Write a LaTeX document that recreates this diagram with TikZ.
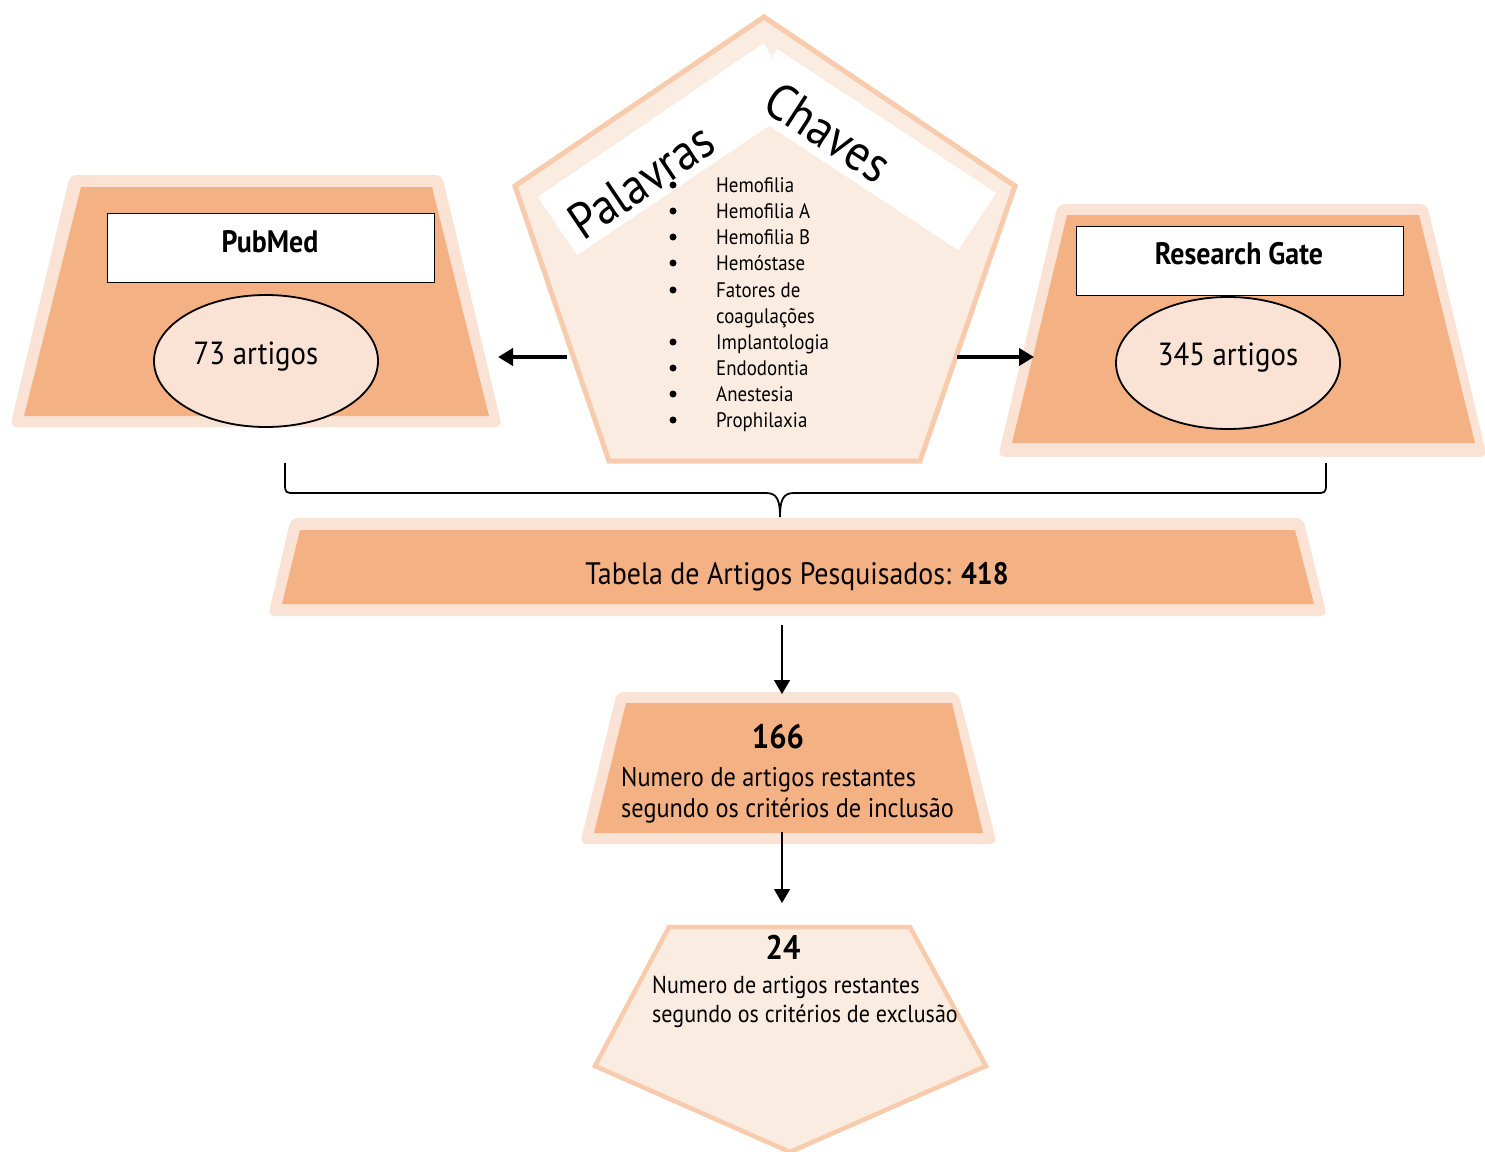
\documentclass[tikz,border=0pt]{standalone}
\usepackage{fontspec}
\setmainfont[FakeStretch=0.9]{PT Sans}
\usetikzlibrary{arrows.meta,shapes.geometric}
\definecolor{orangefill}{HTML}{F4B183}
\definecolor{lightrim}{HTML}{FAE3D5}
\definecolor{pentline}{HTML}{F8CBAD}
\definecolor{pentfill}{HTML}{FBECE1}
\begin{document}
\begin{tikzpicture}[x=1pt,y=-1pt,
  rimshape/.style={fill=lightrim, rounded corners=7pt},
  coreshape/.style={fill=orangefill},
  pentshape/.style={draw=pentline, fill=pentfill, line width=5pt, line join=miter},
  bandshape/.style={fill=white},
  whitebox/.style={draw=black, line width=1pt, fill=white},
  bubble/.style={ellipse, draw=black, line width=1.8pt, fill=lightrim, inner sep=0pt},
  thickarrow/.style={line width=4.5pt, -{Triangle[length=15pt,width=17pt]}},
  thinarrow/.style={line width=1.4pt, -{Triangle[length=14pt,width=16pt]}},
  kwtext/.style={font=\fontsize{21}{25}\selectfont, anchor=base west, inner sep=0pt},
  kwdot/.style={circle, fill=black, inner sep=0pt, minimum size=7pt},
  bigtitle/.style={font=\fontsize{51}{51}\selectfont, inner sep=0pt},
  dbtitle/.style={font=\bfseries\fontsize{31}{34}\selectfont, inner sep=0pt},
  counttext/.style={font=\fontsize{32}{34}\selectfont, anchor=base, inner sep=0pt},
  numtext/.style={font=\bfseries\fontsize{34}{36}\selectfont, anchor=base, inner sep=0pt},
  desctext/.style={align=left, anchor=base west, inner sep=0pt}
]
\useasboundingbox (0,0) rectangle (1485,1151);

% ---------- top pentagon (keywords) ----------
\draw[pentshape] (764,17) -- (1015,186) -- (920,461) -- (609,461) -- (515,186) -- cycle;
\fill[bandshape] (538,197) -- (764,43) -- (772,58) -- (806,101) -- (577,255) -- cycle;
\fill[bandshape] (777,49) -- (996,193) -- (958,250) -- (741,107) -- (772,58) -- cycle;
\node[bigtitle, rotate=34] (palavras) at (641,181) {Palavras};
\node[bigtitle, rotate=-33] (chaves) at (828,132) {Chaves};

\node[kwtext] (k1) at (716,192) {Hemofilia};
\node[kwtext] (k2) at (716,218) {Hemofilia A};
\node[kwtext] (k3) at (716,244) {Hemofilia B};
\node[kwtext] (k4) at (716,270) {Hemóstase};
\node[kwtext] (k5) at (716,297) {Fatores de};
\node[kwtext] (k5b) at (716,323) {coagulações};
\node[kwtext] (k6) at (716,349) {Implantologia};
\node[kwtext] (k7) at (716,375) {Endodontia};
\node[kwtext] (k8) at (716,401) {Anestesia};
\node[kwtext] (k9) at (716,427) {Prophilaxia};
\foreach \n/\y in {d1/192,d2/218,d3/244,d4/270,d5/297,d6/349,d7/375,d8/401,d9/427}
  \node[kwdot] (\n) at (673,\y-7) {};

% ---------- PubMed ----------
\fill[rimshape] (70,175) -- (442,175) -- (502,427) -- (10,427) -- cycle;
\fill[coreshape] (81,187) -- (432,187) -- (489,416) -- (24,416) -- cycle;
\draw[whitebox] (107,213) rectangle (434,282);
\node[dbtitle] (pubmed) at (270,242) {PubMed};
\node[bubble, minimum width=224pt, minimum height=132pt] (pmell) at (266,361) {};
\node[counttext] (pmcount) at (256,364) {73 artigos};

% ---------- Research Gate ----------
\fill[rimshape] (1058,204) -- (1427,204) -- (1487,457) -- (998,457) -- cycle;
\fill[coreshape] (1067,215) -- (1419,215) -- (1475,443) -- (1012,443) -- cycle;
\draw[whitebox] (1076,226) rectangle (1403,295);
\node[dbtitle] (rgate) at (1239,254) {Research Gate};
\node[bubble, minimum width=224pt, minimum height=132pt] (rgell) at (1228,363) {};
\node[counttext] (rgcount) at (1228,365) {345 artigos};

% ---------- arrows from keywords ----------
\coordinate (kwL) at (567,357);
\coordinate (pmR) at (498,357);
\coordinate (kwR) at (957,357);
\coordinate (rgL) at (1034,357);
\draw[thickarrow] (kwL) -- (pmR);
\draw[thickarrow] (kwR) -- (rgL);

% ---------- brace ----------
\coordinate (bL) at (285,463);
\coordinate (bR) at (1326,463);
\coordinate (bTip) at (780,517);
\draw[line width=1.8pt] (bL) -- (285,484) .. controls (285,493) and (286,493) .. (295,493)
  -- (766,493) .. controls (777,493) and (780,500) .. (bTip)
  .. controls (780,500) and (783,493) .. (794,493)
  -- (1316,493) .. controls (1325,493) and (1326,493) .. (1326,484) -- (bR);

% ---------- Tabela ----------
\fill[rimshape] (291,518) -- (1303,518) -- (1327,616) -- (268,616) -- cycle;
\fill[coreshape] (300,530) -- (1295,530) -- (1314,604) -- (282,604) -- cycle;
\node[font=\fontsize{31}{34}\selectfont, inner sep=0pt, anchor=base] (tabela) at (797,584)
  {Tabela de Artigos Pesquisados: \textbf{418}};

% ---------- 166 ----------
\fill[rimshape] (617,692) -- (958,692) -- (997,844) -- (580,844) -- cycle;
\fill[coreshape] (626,703) -- (952,703) -- (983,833) -- (594,833) -- cycle;
\node[numtext] (n166) at (778,748) {166};
\node[desctext, font=\fontsize{27}{31}\selectfont] (inc) at (621,817)
  {Numero de artigos restantes\\segundo os critérios de inclusão};

% ---------- 24 ----------
\draw[pentshape, line width=4.5pt] (669,927) -- (910,927) -- (986,1066) -- (790,1152) -- (595,1066) -- cycle;
\node[numtext] (n24) at (783,959) {24};
\node[desctext, font=\fontsize{24.5}{29}\selectfont] (exc) at (652,1022)
  {Numero de artigos restantes\\segundo os critérios de exclusão};

% ---------- vertical arrows ----------
\coordinate (tabB) at (782,625);
\coordinate (incT) at (782,694);
\coordinate (incB) at (782,832);
\coordinate (excT) at (782,903);
\draw[thinarrow] (tabB) -- (incT);
\draw[thinarrow] (incB) -- (excT);
\end{tikzpicture}
\end{document}
